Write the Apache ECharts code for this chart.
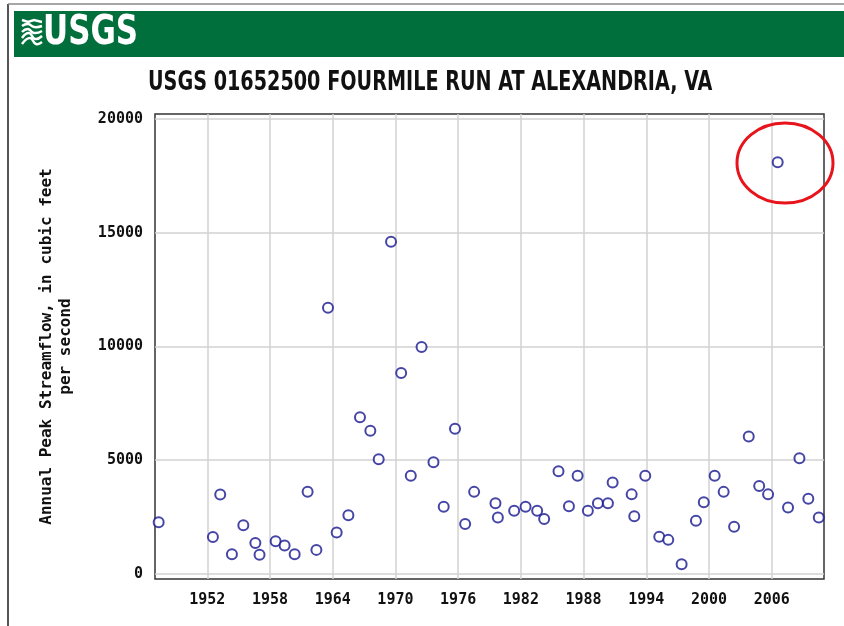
<!DOCTYPE html>
<html>
<head>
<meta charset="utf-8">
<script src="https://cdn.jsdelivr.net/npm/echarts@6/dist/echarts.min.js"></script>
<style>
  html, body { margin: 0; padding: 0; background: #fff; }
  #chart { width: 844px; height: 626px; }
</style>
</head>
<body>
<div id="chart"></div>
<script>
// water year of each annual peak (plotted at the peak date)
var years = [1947.35, 1952.54, 1953.24, 1954.36, 1955.45, 1956.6, 1957.0, 1958.54, 1959.4, 1960.36,
  1961.6, 1962.44, 1963.55, 1964.38, 1965.5, 1966.61, 1967.6, 1968.4, 1969.58, 1970.55,
  1971.47, 1972.5, 1973.64, 1974.62, 1975.7, 1976.67, 1977.53, 1979.57, 1979.8, 1981.36,
  1982.45, 1983.56, 1984.23, 1985.6, 1986.6, 1987.43, 1988.41, 1989.37, 1990.33, 1990.78,
  1992.6, 1992.85, 1993.9, 1995.24, 1996.1, 1997.38, 1998.75, 1999.5, 2000.54, 2001.4,
  2002.4, 2003.8, 2004.8, 2005.65, 2006.57, 2007.56, 2008.65, 2009.5, 2010.5];

// annual peak streamflow, cfs
var peaks = [2270, 1630, 3490, 870, 2140, 1360, 850, 1440, 1250, 870,
  3620, 1060, 11700, 1820, 2580, 6890, 6300, 5040, 14600, 8840,
  4320, 9980, 4910, 2960, 6380, 2200, 3610, 3110, 2480, 2780,
  2960, 2780, 2420, 4520, 2980, 4320, 2780, 3110, 3110, 4020,
  3500, 2540, 4320, 1640, 1500, 430, 2340, 3150, 4320, 3610,
  2080, 6040, 3870, 3500, 18100, 2920, 5090, 3310, 2480];

var xTicks = [1952, 1958, 1964, 1970, 1976, 1982, 1988, 1994, 2000, 2006];
var yTicks = [0, 5000, 10000, 15000, 20000];

var points = [];
for (var i = 0; i < years.length; i++) {
  points.push([years[i], peaks[i]]);
}

var monoFont = '"DejaVu Sans Mono", monospace';
var narrowFont = '"Liberation Sans Narrow", "DejaVu Sans Condensed", sans-serif';

var myChart = echarts.init(document.getElementById('chart'));

var option = {
  backgroundColor: '#fff',
  animation: false,
  grid: {
    left: 155,
    right: 20,
    top: 114,
    bottom: 47,
    show: true,
    borderColor: '#333',
    borderWidth: 1.5,
    backgroundColor: '#fff'
  },
  xAxis: {
    type: 'value',
    min: 1947,
    max: 2011,
    axisLine: { show: false },
    axisTick: { show: false, customValues: xTicks },
    axisLabel: {
      customValues: xTicks,
      formatter: function (v) { return String(v); },
      margin: 14,
      fontFamily: monoFont,
      fontWeight: 'bold',
      fontSize: 15,
      color: '#111'
    },
    splitLine: { show: true, lineStyle: { color: '#d2d2d2', width: 1.5 } }
  },
  yAxis: {
    type: 'value',
    min: -220,
    max: 20220,
    name: 'Annual Peak Streamflow, in cubic feet\nper second',
    nameLocation: 'middle',
    nameGap: 80,
    nameTextStyle: {
      fontFamily: monoFont,
      fontWeight: 'bold',
      fontSize: 16,
      color: '#111',
      lineHeight: 19
    },
    axisLine: { show: false },
    axisTick: { show: false, customValues: yTicks },
    axisLabel: {
      customValues: yTicks,
      formatter: function (v) { return String(v); },
      margin: 12,
      fontFamily: monoFont,
      fontWeight: 'bold',
      fontSize: 15,
      color: '#111'
    },
    splitLine: { show: true, lineStyle: { color: '#d2d2d2', width: 1.5 } }
  },
  series: [
    {
      name: 'Annual peak',
      type: 'scatter',
      data: points,
      symbol: 'emptyCircle',
      symbolSize: 10,
      itemStyle: {
        color: '#161690',
        borderColor: '#161690',
        borderWidth: 2.6
      }
    }
  ],
  graphic: [
    // page frame
    { type: 'line', shape: { x1: 8, y1: 4, x2: 8, y2: 626 }, style: { stroke: '#555', lineWidth: 2 }, z: 10 },
    { type: 'line', shape: { x1: 8, y1: 4, x2: 844, y2: 4 }, style: { stroke: '#888', lineWidth: 1.5 }, z: 10 },
    // green header bar
    { type: 'rect', shape: { x: 14, y: 11, width: 830, height: 46 }, style: { fill: '#006f3c' }, z: 10 },
    // logo waves
    { type: 'polyline', shape: { points: [[22, 20], [28, 22], [34, 20], [42, 22]] }, style: { stroke: '#fff', lineWidth: 2.5, fill: null }, z: 11 },
    { type: 'polyline', shape: { points: [[22, 26], [28, 24], [34, 27], [42, 26]], smooth: 0.5 }, style: { stroke: '#fff', lineWidth: 2.5, fill: null }, z: 11 },
    { type: 'polyline', shape: { points: [[22, 32], [28, 29], [34, 33], [42, 31]], smooth: 0.5 }, style: { stroke: '#fff', lineWidth: 2.5, fill: null }, z: 11 },
    { type: 'polyline', shape: { points: [[22, 38], [29, 33], [35, 39], [42, 36]], smooth: 0.5 }, style: { stroke: '#fff', lineWidth: 2.5, fill: null }, z: 11 },
    { type: 'polyline', shape: { points: [[22, 44], [30, 38], [36, 44], [42, 42]], smooth: 0.5 }, style: { stroke: '#fff', lineWidth: 2.5, fill: null }, z: 11 },
    {
      type: 'text', x: 43, y: 14, scaleX: 0.86, z: 11,
      style: {
        text: 'USGS',
        fill: '#fff',
        font: 'bold 40px ' + narrowFont
      }
    },
    // chart title, squeezed to the narrow face of the original
    {
      type: 'text', x: 148, y: 69, scaleX: 0.79, z: 11,
      style: {
        text: 'USGS 01652500 FOURMILE RUN AT ALEXANDRIA, VA',
        fill: '#111',
        font: 'bold 27px ' + narrowFont
      }
    },
    // red highlight round the 2006 peak
    {
      type: 'ellipse',
      shape: { cx: 785, cy: 163, rx: 48, ry: 40 },
      style: { fill: null, stroke: '#e8141b', lineWidth: 3 },
      z: 20
    }
  ]
};
myChart.setOption(option);
</script>
</body>
</html>
